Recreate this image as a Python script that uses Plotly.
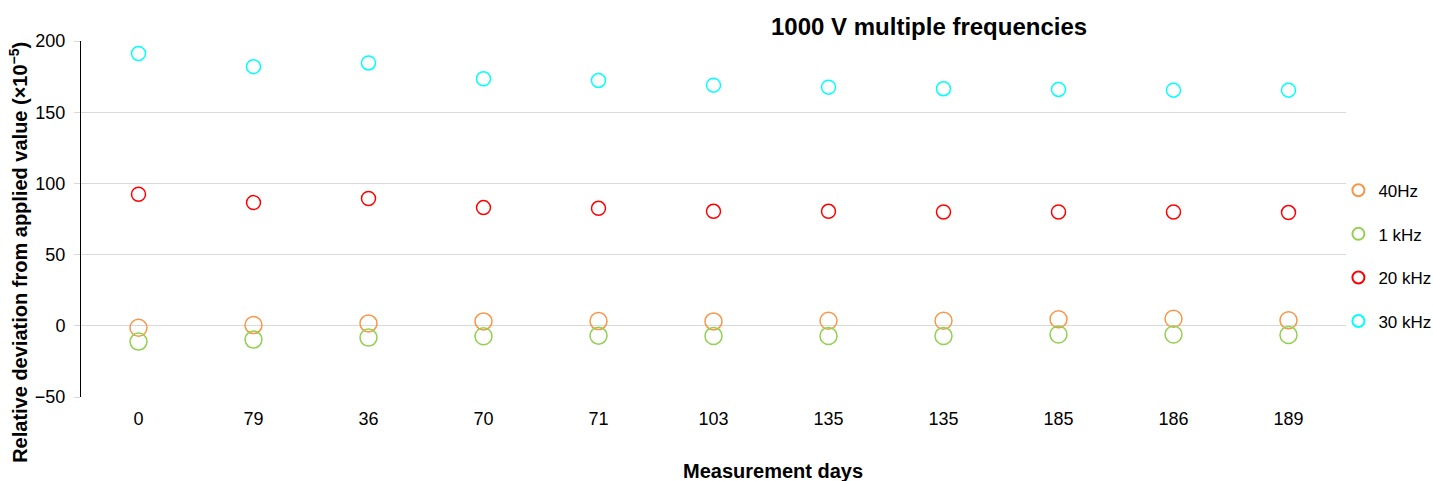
import plotly.graph_objects as go

days = ["0", "79", "36", "70", "71", "103", "135", "135", "185", "186", "189"]
hz40 = [-1.4, 0.5, 1.7, 3.1, 3.3, 3.1, 3.6, 3.6, 4.6, 5.0, 3.9]
khz1 = [-11.1, -9.7, -8.3, -7.3, -6.9, -7.1, -7.1, -7.1, -6.1, -6.1, -6.4]
khz20 = [92.4, 86.5, 89.4, 83.0, 82.5, 80.4, 80.4, 79.9, 79.9, 79.9, 79.5]
khz30 = [191.2, 182.0, 184.6, 173.5, 172.3, 169.0, 167.6, 166.5, 166.0, 165.5, 165.5]

series = [
    ("40Hz", hz40, "#F79646", 17),
    ("1 kHz", khz1, "#92D050", 17),
    ("20 kHz", khz20, "#FF0000", 14),
    ("30 kHz", khz30, "#00FFFF", 14),
]

FONT = "Liberation Sans, Arial, sans-serif"
xs = list(range(len(days)))

fig = go.Figure()
for i, (name, vals, color, size) in enumerate(series):
    fig.add_trace(go.Scatter(
        x=xs, y=vals, mode="markers", name=name, legendgroup=f"g{i}",
        marker=dict(symbol="circle-open", size=size, color=color, line=dict(width=1.5, color=color)),
    ))

fig.update_layout(
    width=1433, height=481,
    margin=dict(l=81, r=87, t=41, b=84, autoexpand=False),
    paper_bgcolor="white", plot_bgcolor="white",
    font=dict(family=FONT, size=16, color="black"),
    showlegend=True,
    legend=dict(
        x=0.994, y=0.63, xanchor="left", yanchor="top",
        font=dict(family=FONT, size=17, color="black"),
        tracegroupgap=18.5, itemsizing="constant", itemwidth=30,
        bgcolor="rgba(0,0,0,0)",
    ),
    xaxis=dict(
        range=[-0.5, len(days) - 0.5],
        tickvals=xs, ticktext=days,
        showgrid=False, zeroline=False, showline=False,
        ticks="", ticklabelstandoff=9,
        tickfont=dict(family=FONT, size=18, color="black"),
    ),
    yaxis=dict(
        range=[-50, 200], dtick=50,
        showgrid=True, gridcolor="#D9D9D9", gridwidth=1,
        zeroline=False,
        showline=True, linecolor="black", linewidth=1,
        ticks="outside", ticklen=6, tickcolor="#D9D9D9",
        ticklabelstandoff=5,
        tickfont=dict(family=FONT, size=18, color="black"),
    ),
    annotations=[
        dict(text="<b>1000 V multiple frequencies</b>", xref="paper", yref="paper",
             x=0.670, y=1.04, xanchor="center", yanchor="middle", showarrow=False,
             font=dict(family=FONT, size=24, color="black")),
        dict(text="<b>Measurement days</b>", xref="paper", yref="paper",
             x=0.547, y=-0.208, xanchor="center", yanchor="middle", showarrow=False,
             font=dict(family=FONT, size=20, color="black")),
        dict(text="<b>Relative deviation from applied value (×10<sup>−5</sup>)</b>", xref="paper", yref="paper",
             x=-0.05, y=0.407, xanchor="center", yanchor="middle", showarrow=False, textangle=-90,
             font=dict(family=FONT, size=20, color="black")),
    ],
)

fig.write_html("out.html", config={"displayModeBar": False},
               post_script="document.body.style.margin='0';document.body.style.overflow='hidden';")
